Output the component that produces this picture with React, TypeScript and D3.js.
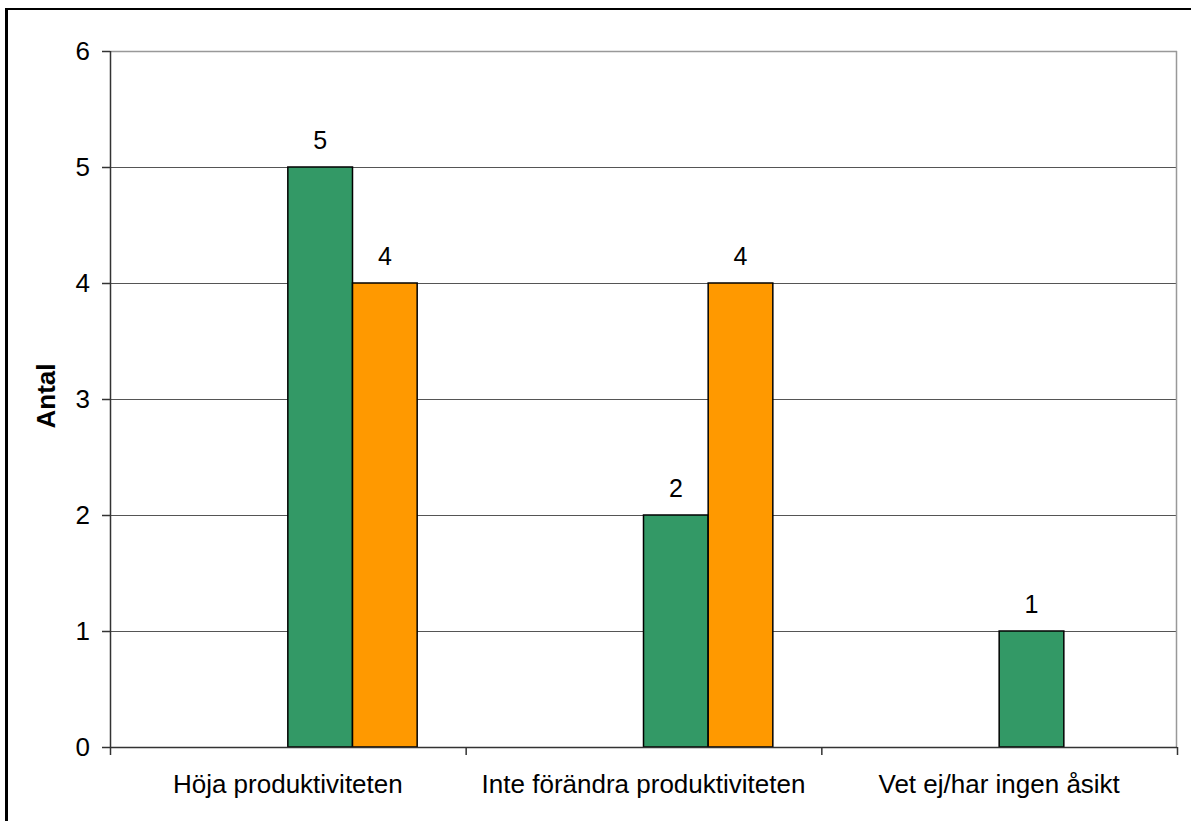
import React from "react";
import * as d3 from "d3";

const categories = ["Höja produktiviteten", "Inte förändra produktiviteten", "Vet ej/har ingen åsikt"];
const seriesNames = ["Serie 1", "Serie 2", "Serie 3", "Serie 4"];
const serie1: (number | null)[] = [null, null, null];
const serie2: (number | null)[] = [null, null, null];
const serie3: (number | null)[] = [5, 2, 1];
const serie4: (number | null)[] = [4, 4, null];
const seriesColors = ["#9999FF", "#993366", "#339966", "#FF9900"];
const yTicks = [0, 1, 2, 3, 4, 5, 6];
const yLabel = "Antal";

const W = 1191;
const H = 821;
const left = 110;
const right = 1177;
const top = 51;
const bottom = 747;
const FONT = "'Liberation Sans', Arial, sans-serif";

export default function App() {
  const seriesValues = [serie1, serie2, serie3, serie4];
  const x0 = d3.scaleBand<string>().domain(categories).range([left, right]).paddingInner(0).paddingOuter(0);
  const x1 = d3.scaleBand<string>().domain(seriesNames).range([0, x0.bandwidth()]).paddingInner(0).paddingOuter(0.75);
  const y = d3.scaleLinear().domain([0, 6]).range([bottom, top]);
  const boundaries = [...categories.map((c) => x0(c) as number), right];

  return (
    <svg width={W} height={H} style={{ position: "absolute", left: 0, top: 0, background: "#fff" }} fontFamily={FONT}>
      <rect x={0} y={0} width={W} height={H} fill="#fff" />
      {/* outer border (left & top visible) */}
      <line x1={6.5} y1={9} x2={6.5} y2={H} stroke="#000" strokeWidth={3} />
      <line x1={5} y1={9} x2={W} y2={9} stroke="#000" strokeWidth={2} />
      {/* gridlines */}
      {yTicks.filter((t) => t > 0 && t < 6).map((t) => (
        <line key={t} x1={left} x2={right} y1={y(t) + 0.5} y2={y(t) + 0.5} stroke="#555" strokeWidth={1} />
      ))}
      {/* plot border top & right */}
      <line x1={left} x2={right} y1={y(6) + 0.5} y2={y(6) + 0.5} stroke="#999" strokeWidth={1.5} />
      <line x1={right - 0.5} x2={right - 0.5} y1={top} y2={bottom} stroke="#999" strokeWidth={1.5} />
      {/* bars */}
      {seriesValues.map((vals, si) =>
        vals.map((v, ci) => {
          if (v === null) return null;
          const bx = (x0(categories[ci]) as number) + (x1(seriesNames[si]) as number);
          const bw = x1.bandwidth();
          return (
            <g key={`${si}-${ci}`}>
              <rect x={bx} y={y(v)} width={bw} height={y(0) - y(v)} fill={seriesColors[si]} stroke="#000" strokeWidth={1.5} />
              <text x={bx + bw / 2} y={y(v) - 18} textAnchor="middle" fontSize={25} fill="#000">
                {v}
              </text>
            </g>
          );
        })
      )}
      {/* y axis */}
      <line x1={left + 0.5} x2={left + 0.5} y1={top} y2={bottom + 1} stroke="#333" strokeWidth={1.5} />
      {yTicks.map((t) => (
        <g key={t}>
          <line x1={102} x2={left} y1={y(t) + 0.5} y2={y(t) + 0.5} stroke="#333" strokeWidth={1.5} />
          <text x={90} y={y(t) + 9} textAnchor="end" fontSize={26} fill="#000">
            {t}
          </text>
        </g>
      ))}
      {/* x axis */}
      <line x1={left} x2={right} y1={bottom + 0.5} y2={bottom + 0.5} stroke="#333" strokeWidth={1.5} />
      {boundaries.map((bx, i) => (
        <line key={i} x1={bx + 0.5} x2={bx + 0.5} y1={bottom} y2={bottom + 8} stroke="#333" strokeWidth={1.5} />
      ))}
      {categories.map((c) => (
        <text key={c} x={(x0(c) as number) + x0.bandwidth() / 2} y={793} textAnchor="middle" fontSize={26} fill="#000">
          {c}
        </text>
      ))}
      <text transform={`translate(55,${(top + bottom) / 2 - 3}) rotate(-90)`} textAnchor="middle" fontSize={26} fontWeight="bold" fill="#000">
        {yLabel}
      </text>
    </svg>
  );
}
